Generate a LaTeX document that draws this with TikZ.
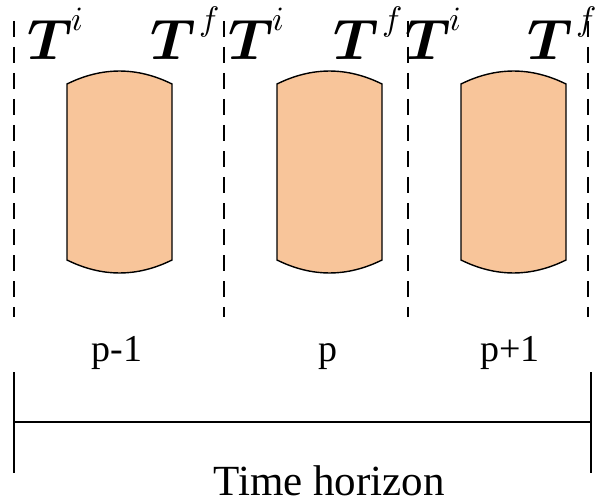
\documentclass[tikz,border=0pt]{standalone}
\usepackage{unicode-math}
\setmathfont{Latin Modern Math}
\newfontfamily\tnr{Liberation Serif}
\definecolor{boxfill}{RGB}{248,197,154}
\newcommand{\tsym}[2]{$\symbfit{T}$\kern#2\raisebox{29pt}{\fontsize{34}{40}\selectfont$#1$}}
\tikzset{
  sep/.style={line width=1.5pt, dash pattern=on 16pt off 10pt},
  period/.style={draw=black, line width=1.4pt, fill=boxfill},
  tlab/.style={anchor=base west, inner sep=0pt, font=\fontsize{57}{60}\selectfont},
  plab/.style={anchor=base, inner sep=0pt, font=\tnr\fontsize{38}{44}\selectfont},
  axis/.style={line width=1.8pt}
}
\newcommand{\periodbox}[1]{%
  \draw[period] (#1,84) .. controls ({#1+35},66.7) and ({#1+70},66.7) .. ({#1+105},84)
    -- ({#1+105},260) .. controls ({#1+70},277.3) and ({#1+35},277.3) .. (#1,260) -- cycle;}
\begin{document}
\begin{tikzpicture}[x=1pt,y=-1pt]
\useasboundingbox (0,0) rectangle (595,503);
% separators
\foreach \xx/\nm in {14/s0,224/s1,408/s2,588/s3}{
  \coordinate (\nm t) at (\xx,21);
  \coordinate (\nm b) at (\xx,317);
  \draw[sep] (\nm t) -- (\nm b);
}
% period boxes
\periodbox{67}
\periodbox{277}
\periodbox{461}
% T labels
\node[tlab] (ti1) at (27,60) {\tsym{i}{-1pt}};
\node[tlab] (tf1) at (150,60) {\tsym{f}{4pt}};
\node[tlab] (ti2) at (228,60) {\tsym{i}{-1pt}};
\node[tlab] (tf2) at (333,60) {\tsym{f}{4pt}};
\node[tlab] (ti3) at (405,60) {\tsym{i}{-1pt}};
\node[tlab] (tf3) at (527,60) {\tsym{f}{4pt}};
% period labels
\node[plab] (p1) at (117,361) {p-1};
\node[plab] (p2) at (328,361) {p};
\node[plab] (p3) at (510,361) {p+1};
% time horizon
\coordinate (hl) at (14,422);
\coordinate (hr) at (591,422);
\coordinate (hlt) at (14,372);
\coordinate (hlb) at (14,473);
\coordinate (hrt) at (591,372);
\coordinate (hrb) at (591,473);
\draw[axis] (hl) -- (hr);
\draw[axis] (hlt) -- (hlb);
\draw[axis] (hrt) -- (hrb);
\node[plab, font=\tnr\fontsize{43}{50}\selectfont] (th) at (329,495) {Time horizon};
\end{tikzpicture}
\end{document}
